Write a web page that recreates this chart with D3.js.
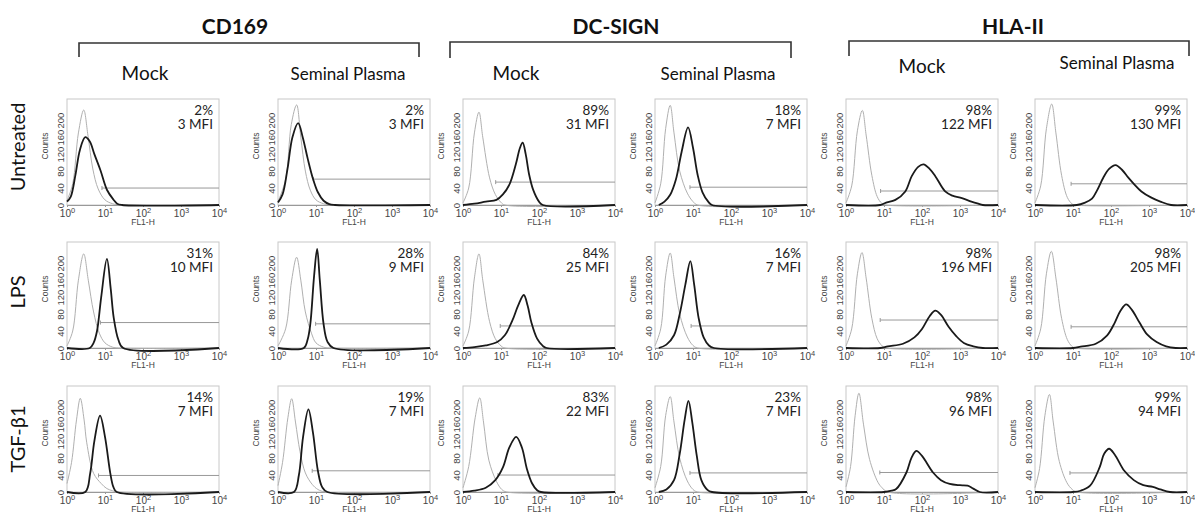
<!DOCTYPE html>
<html><head><meta charset="utf-8">
<script src="https://cdn.jsdelivr.net/npm/d3@7"></script>
<style>
html,body{margin:0;padding:0;background:#fff;}
svg{display:block;}
</style></head>
<body>
<svg id="chart" width="1195" height="514"></svg>
<script>
// ---------------- DATA ----------------
const markers = ["CD169", "DC-SIGN", "HLA-II"];
const conditions = ["Mock", "Seminal Plasma"];
const treatments = ["Untreated", "LPS", "TGF-β1"];

const percents = [
  ["2%", "2%", "89%", "18%", "98%", "99%"],
  ["31%", "28%", "84%", "16%", "98%", "98%"],
  ["14%", "19%", "83%", "23%", "98%", "99%"]
];
const mfis = [
  ["3 MFI", "3 MFI", "31 MFI", "7 MFI", "122 MFI", "130 MFI"],
  ["10 MFI", "9 MFI", "25 MFI", "7 MFI", "196 MFI", "205 MFI"],
  ["7 MFI", "7 MFI", "22 MFI", "7 MFI", "96 MFI", "94 MFI"]
];

const xTickValues = [1, 10, 100, 1000, 10000];
const yTickValues = [0, 40, 80, 120, 160, 200];

// gate marker per panel: [log10 start, count level]
const gatesUntreated = [[0.92, 40], [0.93, 61], [0.86, 54], [0.92, 42], [0.91, 33], [0.95, 50]];
const gatesLPS       = [[0.88, 60], [0.99, 57], [0.98, 52], [0.95, 52], [0.90, 66], [0.95, 50]];
const gatesTGF       = [[0.83, 39], [0.90, 50], [0.92, 40], [0.92, 45], [0.89, 46], [0.92, 45]];

// histogram curves, points [log10 FL1-H, counts]
// isotype control (grey)
const isoUntreated = [
  [[0,10],[0.15,50],[0.3,170],[0.44,224],[0.55,165],[0.68,85],[0.82,38],[1.0,12],[1.2,3],[1.4,0],[4,0]],
  [[0,8],[0.2,60],[0.35,190],[0.49,236],[0.6,160],[0.72,80],[0.85,35],[1.0,12],[1.2,3],[1.4,0],[4,0]],
  [[0,5],[0.15,40],[0.3,170],[0.42,219],[0.52,160],[0.7,64],[0.85,25],[1.0,6],[1.1,0],[4,0]],
  [[0,5],[0.15,50],[0.28,180],[0.40,235],[0.5,170],[0.65,80],[0.85,28],[1.0,8],[1.12,0],[4,0]],
  [[0,5],[0.15,45],[0.3,175],[0.43,223],[0.53,165],[0.68,70],[0.82,20],[0.94,4],[1.05,0],[4,0]],
  [[0,5],[0.15,45],[0.3,180],[0.44,238],[0.55,170],[0.7,70],[0.85,18],[0.97,3],[1.05,0],[4,0]]
];
const isoLPS = [
  [[0,5],[0.15,40],[0.3,160],[0.44,222],[0.56,160],[0.7,85],[0.85,35],[1.0,12],[1.2,2],[1.35,0],[4,0]],
  [[0,5],[0.2,45],[0.36,160],[0.49,214],[0.6,160],[0.72,85],[0.88,35],[1.0,12],[1.2,2],[1.35,0],[4,0]],
  [[0,5],[0.15,40],[0.3,165],[0.42,222],[0.52,160],[0.7,62],[0.85,22],[1.0,5],[1.1,0],[4,0]],
  [[0,5],[0.15,45],[0.28,170],[0.40,224],[0.5,165],[0.65,80],[0.85,26],[1.0,6],[1.12,0],[4,0]],
  [[0,5],[0.15,45],[0.3,175],[0.42,225],[0.53,165],[0.68,70],[0.82,22],[0.95,5],[1.05,0],[4,0]],
  [[0,5],[0.15,45],[0.3,175],[0.43,228],[0.55,165],[0.7,70],[0.85,20],[0.97,4],[1.05,0],[4,0]]
];
const isoTGF = [
  [[0,20],[0.12,70],[0.25,170],[0.35,221],[0.45,170],[0.52,116],[0.7,44],[0.9,20],[1.05,8],[1.2,3],[1.35,0],[4,0]],
  [[0,15],[0.12,70],[0.26,175],[0.36,220],[0.46,165],[0.58,95],[0.72,45],[0.9,18],[1.05,6],[1.25,0],[4,0]],
  [[0,10],[0.15,60],[0.32,175],[0.44,222],[0.54,165],[0.68,75],[0.88,25],[1.02,6],[1.15,0],[4,0]],
  [[0,10],[0.15,60],[0.28,180],[0.40,225],[0.5,165],[0.65,80],[0.85,26],[1.0,6],[1.12,0],[4,0]],
  [[0,12],[0.12,60],[0.24,180],[0.34,233],[0.46,160],[0.62,77],[0.84,23],[0.95,10],[1.1,0],[4,0]],
  [[0,10],[0.12,55],[0.26,180],[0.38,230],[0.48,165],[0.64,72],[0.84,22],[0.98,6],[1.1,0],[4,0]]
];
// stained sample (black)
const stainUntreated = [
  [[0,8],[0.1,20],[0.22,70],[0.34,130],[0.48,160],[0.6,150],[0.72,120],[0.88,82],[1.05,36],[1.22,13],[1.32,3],[1.45,0],[4,0]],
  [[0,6],[0.12,25],[0.25,85],[0.38,160],[0.53,193],[0.65,160],[0.78,110],[0.92,62],[1.05,30],[1.2,10],[1.35,2],[1.5,0],[4,0]],
  [[0,0],[0.3,3],[0.6,8],[0.88,12],[1.05,25],[1.22,48],[1.39,96],[1.5,135],[1.57,147],[1.65,120],[1.74,72],[1.85,35],[2.0,8],[2.1,0],[4,0]],
  [[0.1,0],[0.25,8],[0.4,24],[0.55,60],[0.7,125],[0.87,183],[1.0,135],[1.12,72],[1.25,30],[1.4,8],[1.5,0],[4,0]],
  [[0,0],[0.9,0],[1.04,5],[1.3,12],[1.56,32],[1.73,68],[1.9,90],[2.04,96],[2.2,85],[2.35,68],[2.61,32],[2.8,22],[3.05,16],[3.3,8],[3.48,3],[3.6,0],[4,0]],
  [[0,0],[1.1,0],[1.3,5],[1.5,15],[1.63,34],[1.8,65],[1.95,85],[2.12,94],[2.3,82],[2.45,65],[2.6,50],[2.8,32],[3.05,18],[3.3,8],[3.58,0],[4,0]]
];
const stainLPS = [
  [[0,0],[0.6,0],[0.7,12],[0.79,40],[0.9,120],[1.05,210],[1.15,140],[1.23,71],[1.35,20],[1.48,0],[4,0]],
  [[0,0],[0.68,0],[0.78,20],[0.85,56],[0.95,170],[1.03,234],[1.1,160],[1.2,56],[1.3,15],[1.46,0],[4,0]],
  [[0,0],[0.3,2],[0.6,6],[0.9,14],[1.1,30],[1.3,65],[1.45,100],[1.6,125],[1.7,100],[1.8,60],[1.95,22],[2.1,5],[2.2,0],[4,0]],
  [[0.1,0],[0.3,8],[0.5,30],[0.65,80],[0.8,150],[0.93,205],[1.03,150],[1.15,70],[1.28,25],[1.42,6],[1.55,0],[4,0]],
  [[0,0],[0.9,0],[1.1,4],[1.5,10],[1.8,25],[2.0,45],[2.2,75],[2.35,88],[2.5,78],[2.7,50],[2.9,28],[3.1,12],[3.35,4],[3.6,0],[4,0]],
  [[0,0],[1.0,0],[1.2,3],[1.6,10],[1.9,30],[2.1,60],[2.25,88],[2.4,103],[2.55,90],[2.75,60],[2.95,32],[3.2,14],[3.45,4],[3.7,0],[4,0]]
];
const stainTGF = [
  [[0,0],[0.48,0],[0.61,44],[0.72,120],[0.87,180],[1.0,130],[1.14,44],[1.22,12],[1.31,0],[4,0]],
  [[0,0],[0.42,0],[0.55,40],[0.66,130],[0.8,195],[0.92,140],[1.05,50],[1.16,12],[1.3,0],[4,0]],
  [[0,0],[0.3,3],[0.6,10],[0.85,28],[1.05,58],[1.22,105],[1.4,130],[1.55,105],[1.68,55],[1.82,20],[1.95,4],[2.05,0],[4,0]],
  [[0.1,0],[0.3,6],[0.5,28],[0.65,90],[0.78,170],[0.88,215],[0.98,165],[1.1,85],[1.22,28],[1.38,5],[1.5,0],[4,0]],
  [[0,0],[1.0,0],[1.2,3],[1.32,7],[1.59,46],[1.72,80],[1.85,97],[2.0,85],[2.29,46],[2.5,28],[2.73,19],[3.0,16],[3.2,15],[3.35,8],[3.52,0],[4,0]],
  [[0,0],[1.0,0],[1.2,3],[1.45,15],[1.7,58],[1.82,90],[1.95,102],[2.1,88],[2.35,50],[2.6,28],[2.85,16],[3.1,12],[3.3,6],[3.55,0],[4,0]]
];

// ---------------- LAYOUT ----------------
const colLeft = [67, 278, 463, 655, 846, 1035];
const panelW = 152;
const rowTop = [99, 242, 386];
const panelH = 106;

const svg = d3.select("#chart");
const LABEL_FONT = "Lato, 'Open Sans', sans-serif";
const AXIS_FONT = "'Liberation Sans', Arial, sans-serif";

// headers
const headerCenters = [235, 616, 1013];
const brackets = [[79, 419, 43, 57], [450, 791, 42, 58], [849, 1189, 41, 56]];
markers.forEach((m, i) => {
  svg.append("text").attr("x", headerCenters[i]).attr("y", 34)
    .attr("text-anchor", "middle").attr("font-family", LABEL_FONT)
    .attr("font-weight", "bold").attr("font-size", 21).attr("fill", "#111").text(m);
  const [x0, x1, yt, yb] = brackets[i];
  svg.append("path").attr("d", `M${x0},${yb}V${yt}H${x1}V${yb}`)
    .attr("fill", "none").attr("stroke", "#333").attr("stroke-width", 1.6);
});
const subCenters = [145, 348, 516, 718, 922, 1117];
const subBaselines = [80, 80, 80, 80, 73, 69];
subCenters.forEach((cx, j) => {
  svg.append("text").attr("x", cx).attr("y", subBaselines[j])
    .attr("text-anchor", "middle").attr("font-family", LABEL_FONT)
    .attr("font-size", j % 2 === 0 ? 19 : 17).attr("fill", "#111").text(conditions[j % 2]);
});
const rowLabelCenters = [147, 292, 439];
treatments.forEach((t, i) => {
  svg.append("text").attr("transform", `translate(25,${rowLabelCenters[i]}) rotate(-90)`)
    .attr("text-anchor", "middle").attr("font-family", LABEL_FONT)
    .attr("font-size", 20).attr("fill", "#111").text(t);
});

const isoRows = [isoUntreated, isoLPS, isoTGF];
const stainRows = [stainUntreated, stainLPS, stainTGF];
const gateRows = [gatesUntreated, gatesLPS, gatesTGF];

for (let r = 0; r < 3; r++) {
  for (let c = 0; c < 6; c++) {
    const x0 = colLeft[c], y0 = rowTop[r];
    const g = svg.append("g").attr("transform", `translate(${x0},${y0})`);
    const x = d3.scaleLog().domain([1, 10000]).range([0, panelW]);
    const y = d3.scaleLinear().domain([0, 250]).range([panelH, 0]);

    // frame
    g.append("rect").attr("x", 0).attr("y", 0).attr("width", panelW).attr("height", panelH)
      .attr("fill", "none").attr("stroke", "#c8c8c8").attr("stroke-width", 1);

    // x axis
    const xAxis = d3.axisBottom(x).tickValues(xTickValues).tickSize(2).tickFormat(() => "");
    const xa = g.append("g").attr("transform", `translate(0,${panelH})`).call(xAxis);
    xa.select(".domain").attr("stroke", "#999");
    xa.selectAll(".tick line").attr("stroke", "#999");
    xa.selectAll(".tick").each(function (d) {
      const t = d3.select(this).append("text").attr("y", 12).attr("text-anchor", "middle")
        .attr("font-family", AXIS_FONT).attr("font-size", 10).attr("fill", "#444");
      t.append("tspan").text("10");
      t.append("tspan").attr("dy", -4).attr("font-size", 7.5).text(Math.round(Math.log10(d)));
    });
    g.append("text").attr("x", panelW / 2).attr("y", panelH + 20).attr("text-anchor", "middle")
      .attr("font-family", AXIS_FONT).attr("font-size", 8.5).attr("fill", "#444").text("FL1-H");

    // y axis
    const yAxis = d3.axisLeft(y).tickValues(yTickValues).tickSize(0).tickFormat(() => "");
    const ya = g.append("g").call(yAxis);
    ya.select(".domain").remove();
    ya.selectAll(".tick").each(function (d) {
      d3.select(this).append("text").attr("transform", "translate(-3,0) rotate(-90)")
        .attr("text-anchor", "middle").attr("font-family", AXIS_FONT)
        .attr("font-size", 9.5).attr("fill", "#444").text(d);
    });
    g.append("text").attr("transform", `translate(-19,${panelH / 2 - 6}) rotate(-90)`)
      .attr("text-anchor", "middle").attr("font-family", AXIS_FONT)
      .attr("font-size", 8.5).attr("fill", "#444").text("Counts");

    const line = d3.line().x(d => x(Math.pow(10, d[0]))).y(d => y(d[1])).curve(d3.curveCatmullRom.alpha(0.5));

    // gate marker
    const [gs, gl] = gateRows[r][c];
    g.append("line").attr("x1", x(Math.pow(10, gs))).attr("x2", panelW)
      .attr("y1", y(gl)).attr("y2", y(gl)).attr("stroke", "#999").attr("stroke-width", 1);
    g.append("line").attr("x1", x(Math.pow(10, gs))).attr("x2", x(Math.pow(10, gs)))
      .attr("y1", y(gl) - 2).attr("y2", y(gl) + 2).attr("stroke", "#999").attr("stroke-width", 1);

    // curves
    g.append("path").datum(isoRows[r][c]).attr("d", line)
      .attr("fill", "none").attr("stroke", "#b0b0b0").attr("stroke-width", 1);
    g.append("path").datum(stainRows[r][c]).attr("d", line)
      .attr("fill", "none").attr("stroke", "#1a1a1a").attr("stroke-width", 1.8);

    // text
    g.append("text").attr("x", panelW - 6).attr("y", 16).attr("text-anchor", "end")
      .attr("font-family", LABEL_FONT).attr("font-size", 13.5).attr("fill", "#222").text(percents[r][c]);
    g.append("text").attr("x", panelW - 6).attr("y", 30).attr("text-anchor", "end")
      .attr("font-family", LABEL_FONT).attr("font-size", 13.5).attr("fill", "#222").text(mfis[r][c]);
  }
}
</script>
</body></html>
